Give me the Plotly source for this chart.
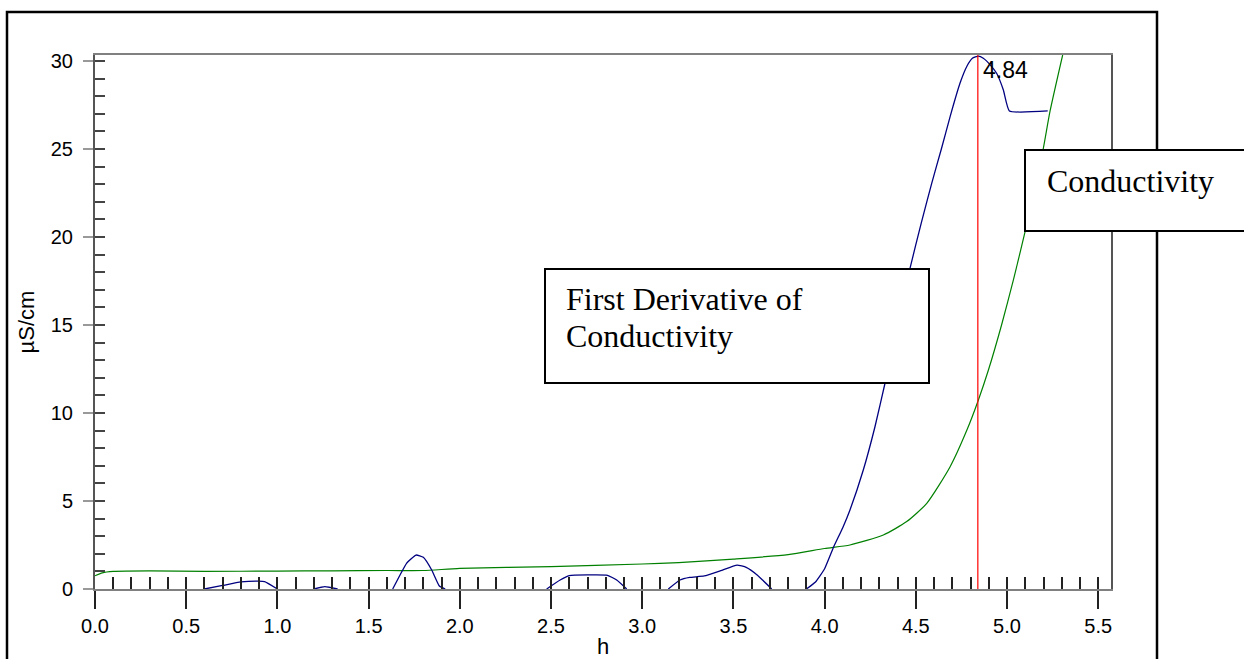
import plotly.graph_objects as go

# ---------------- data ----------------
h_deriv = [0.0, 0.60, 0.70, 0.80, 0.895, 0.93, 1.00, 1.20, 1.26, 1.33,
           1.632, 1.67, 1.708, 1.76, 1.80, 1.846, 1.888, 1.92,
           2.476, 2.55, 2.60, 2.70, 2.81, 2.86, 2.915,
           3.143, 3.207, 3.26, 3.34, 3.43, 3.52, 3.57, 3.63, 3.71,
           3.90, 3.95, 4.00, 4.05, 4.10, 4.139, 4.212, 4.276, 4.331,
           4.40, 4.468, 4.53, 4.587, 4.64, 4.688, 4.742, 4.78, 4.81, 4.843,
           4.87, 4.91, 4.943, 4.98, 5.013, 5.223]
deriv = [0, 0, 0.2, 0.4, 0.45, 0.42, 0, 0, 0.13, 0,
         0, 0.75, 1.46, 1.93, 1.8, 1.08, 0.17, 0,
         0, 0.51, 0.76, 0.8, 0.78, 0.51, 0,
         0, 0.51, 0.66, 0.74, 1.04, 1.36, 1.23, 0.8, 0,
         0, 0.4, 1.15, 2.4, 3.5, 4.49, 6.76, 9.22, 11.69,
         15.0, 18.22, 20.8, 23.05, 25.0, 26.84, 28.73, 29.7, 30.15, 30.28,
         30.15, 29.75, 29.3, 28.35, 27.16, 27.16]

h_cond = [0.0, 0.04, 0.1, 0.3, 0.6, 1.0, 1.3, 1.6, 1.8, 2.0, 2.5, 3.0, 3.2,
          3.5, 3.8, 4.0, 4.139, 4.322, 4.45, 4.56, 4.688, 4.78, 4.843, 4.898,
          4.97, 5.035, 5.099, 5.15, 5.199, 5.236, 5.305]
cond = [0.75, 0.92, 1.0, 1.03, 1.0, 1.02, 1.03, 1.05, 1.05, 1.17, 1.27, 1.42, 1.5,
        1.7, 1.95, 2.3, 2.5, 3.07, 3.83, 4.87, 6.95, 9.03, 10.74, 12.44,
        15.0, 17.56, 20.3, 22.6, 25.04, 27.16, 30.34]

endpoint_h = 4.84
x_range = [0, 5.57]
y_range = [0, 30.34]
x_title = "h"
y_title = "µS/cm"
label_deriv = ["First Derivative of", "Conductivity"]
label_cond = "Conductivity"

# stretches where the derivative stays at zero lie on the x axis line:
# break the trace there so they are not drawn over the axis
hx, hy = [], []
for i, v in enumerate(deriv):
    hx.append(h_deriv[i])
    hy.append(v)
    if i < len(deriv) - 1 and v == 0 and deriv[i + 1] == 0:
        hx.append((h_deriv[i] + h_deriv[i + 1]) / 2)
        hy.append(None)

# ---------------- layout geometry ----------------
W, H = 1244, 659
ML, MR, MT, MB = 95, 133, 55, 70
PW, PH = W - ML - MR, H - MT - MB


def px(xp):
    return (xp - ML) / PW


def py(yp):
    return (H - MB - yp) / PH


fig = go.Figure()

fig.add_trace(go.Scatter(x=h_cond, y=cond, mode="lines",
                         line=dict(color="#008000", width=1.2, shape="spline", smoothing=0.6),
                         name="Conductivity", hoverinfo="skip"))
fig.add_trace(go.Scatter(x=hx, y=hy, mode="lines", connectgaps=False,
                         line=dict(color="#000080", width=1.3, shape="spline", smoothing=0.4),
                         name="First Derivative", hoverinfo="skip"))
fig.add_trace(go.Scatter(x=[endpoint_h, endpoint_h], y=y_range, mode="lines",
                         line=dict(color="#ff0000", width=1.2),
                         xaxis="x2", yaxis="y2", hoverinfo="skip",
                         name="Endpoint"))

tickfont = dict(family="Liberation Sans, Arial, sans-serif", size=20, color="#000")

fig.update_layout(
    width=W, height=H,
    margin=dict(l=ML, r=MR, t=MT, b=MB, pad=0, autoexpand=False),
    paper_bgcolor="white", plot_bgcolor="white",
    showlegend=False,
    xaxis=dict(range=x_range, showgrid=False, zeroline=False, automargin=False,
               showline=True, linecolor="#808080", linewidth=2, mirror=True,
               ticks="outside", ticklen=18, tickwidth=2, tickcolor="#222",
               tick0=0, dtick=0.5, tickformat=".1f",
               tickfont=tickfont, ticklabelstandoff=0,
               title=dict(text=x_title, font=dict(family="Liberation Sans, Arial", size=22, color="#000"),
                          standoff=8),
               layer="above traces"),
    xaxis2=dict(range=x_range, overlaying="x", anchor="y", side="bottom", automargin=False,
                showgrid=False, zeroline=False, showline=False,
                ticks="inside", ticklen=12, tickwidth=1.5, tickcolor="#222",
                tick0=0, dtick=0.1, showticklabels=False),
    yaxis=dict(range=y_range, showgrid=False, zeroline=False, automargin=False,
               showline=True, linecolor="#555", linewidth=2, mirror=True,
               ticks="outside", ticklen=10, tickwidth=2, tickcolor="#999",
               tick0=0, dtick=5, tickfont=tickfont, ticklabelstandoff=6,
               title=dict(text=y_title, font=dict(family="Liberation Sans, Arial", size=22, color="#000"),
                          standoff=10),
               layer="above traces"),
    yaxis2=dict(range=y_range, overlaying="y", anchor="x", side="left", automargin=False,
                showgrid=False, zeroline=False, showline=False,
                ticks="inside", ticklen=10, tickwidth=1.5, tickcolor="#444",
                tick0=0, dtick=1, showticklabels=False),
)

# outer frame and text boxes (paper coordinates)
shapes = [
    dict(type="rect", xref="paper", yref="paper", layer="above",
         x0=px(7), x1=px(1157), y0=py(700), y1=py(12),
         line=dict(color="black", width=2.5), fillcolor="rgba(0,0,0,0)"),
    dict(type="rect", xref="paper", yref="paper", layer="above",
         x0=px(545), x1=px(929), y0=py(383), y1=py(269),
         line=dict(color="black", width=2), fillcolor="white"),
    dict(type="rect", xref="paper", yref="paper", layer="above",
         x0=px(1025), x1=px(1270), y0=py(231), y1=py(150),
         line=dict(color="black", width=2), fillcolor="white"),
]
fig.update_layout(shapes=shapes)

serif = dict(family="Liberation Serif, Times New Roman, serif", size=32, color="black")
annotations = [
    dict(text=label_deriv[0], xref="paper", yref="paper", x=px(565), y=py(299),
         xanchor="left", yanchor="middle", showarrow=False, font=serif, borderpad=0),
    dict(text=label_deriv[1], xref="paper", yref="paper", x=px(565), y=py(336),
         xanchor="left", yanchor="middle", showarrow=False, font=serif, borderpad=0),
    dict(text=label_cond, xref="paper", yref="paper", x=px(1046), y=py(181),
         xanchor="left", yanchor="middle", showarrow=False, font=serif, borderpad=0),
    dict(text=f"{endpoint_h:.2f}", xref="x", yref="paper", x=endpoint_h, y=py(70),
         xanchor="left", yanchor="middle", xshift=4, showarrow=False,
         font=dict(family="Liberation Sans, Arial", size=23, color="black"), borderpad=0),
]
fig.update_layout(annotations=annotations)

fig.write_html("out.html", config={"displayModeBar": False},
               post_script="document.body.style.margin='0px';")
